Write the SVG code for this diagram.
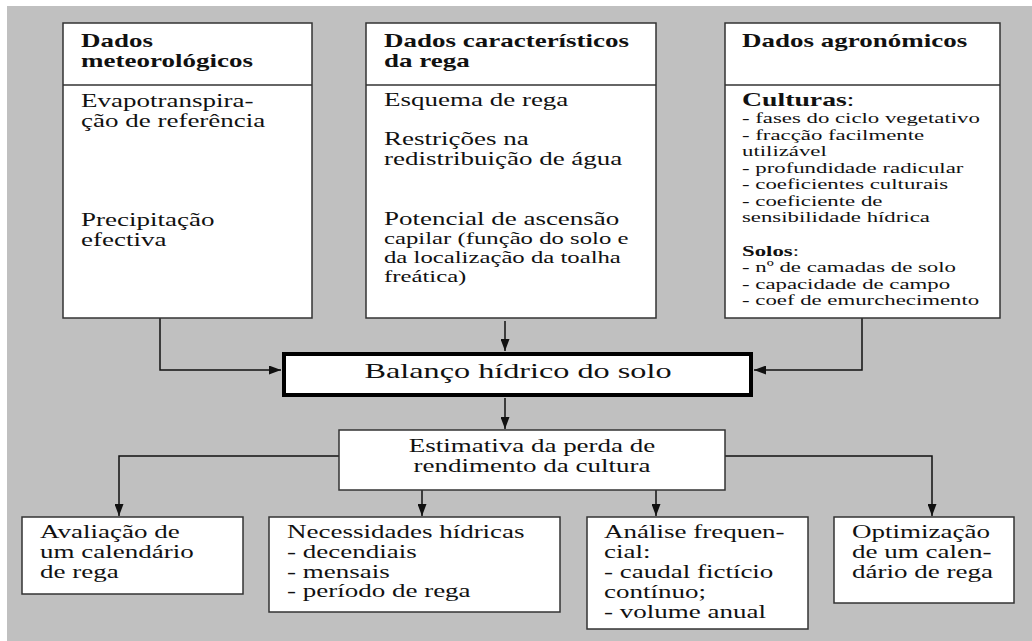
<svg xmlns="http://www.w3.org/2000/svg" width="1032" height="641" viewBox="0 0 1032 641">
<style>
  .bg{fill:#c0c0c0}
  .box{fill:#fff;stroke:#333;stroke-width:1.5}
  .thick{fill:#fff;stroke:#000;stroke-width:4}
  .div{stroke:#333;stroke-width:1.5}
  .ln{fill:none;stroke:#111;stroke-width:1.5}
  text{font-family:"Liberation Serif","Times New Roman",serif;fill:#111}
  .h{font-weight:bold;font-size:18px}
  .t{font-size:18px}
  .s{font-size:16.5px}
  .l{font-size:15.2px}
  .bl{font-size:15.2px;font-weight:bold}
  .cb{font-size:18.5px;font-weight:bold}
  .big{font-size:21.5px}
  .c{text-anchor:middle}
</style>
<defs>
  <marker id="arr" markerUnits="userSpaceOnUse" markerWidth="12" markerHeight="9" refX="12" refY="4.5" orient="auto">
    <path d="M0,0 L12,4.5 L0,9 Z" fill="#111"/>
  </marker>
</defs>
<rect x="0" y="0" width="1032" height="641" fill="#fff"/>
<rect class="bg" x="7" y="6" width="1025" height="635"/>

<g id="connectors">
  <path class="ln" d="M160,318 V370 H281" marker-end="url(#arr)"/>
  <path class="ln" d="M505,321 V351" marker-end="url(#arr)"/>
  <path class="ln" d="M862,318 V370 H754" marker-end="url(#arr)"/>
  <path class="ln" d="M505,398 V429" marker-end="url(#arr)"/>
  <path class="ln" d="M339,456 H119 V516" marker-end="url(#arr)"/>
  <path class="ln" d="M422,490 V516" marker-end="url(#arr)"/>
  <path class="ln" d="M656,490 V516" marker-end="url(#arr)"/>
  <path class="ln" d="M725,456 H932 V516" marker-end="url(#arr)"/>
</g>

<g id="meteo">
  <rect class="box" x="63" y="23" width="249" height="295"/>
  <line class="div" x1="63" y1="85" x2="312" y2="85"/>
  <g transform="translate(81 0) scale(1.5 1)">
    <text class="h" x="0" y="47">Dados</text>
    <text class="h" x="0" y="67">meteorológicos</text>
    <text class="t" x="0" y="107">Evapotranspira-</text>
    <text class="t" x="0" y="127">ção de referência</text>
    <text class="t" x="0" y="226">Precipitação</text>
    <text class="t" x="0" y="246">efectiva</text>
  </g>
</g>

<g id="rega">
  <rect class="box" x="366" y="23" width="290" height="295"/>
  <line class="div" x1="366" y1="85" x2="656" y2="85"/>
  <g transform="translate(384 0) scale(1.5 1)">
    <text class="h" x="0" y="47">Dados característicos</text>
    <text class="h" x="0" y="67">da rega</text>
    <text class="t" x="0" y="106">Esquema de rega</text>
    <text class="t" x="0" y="145">Restrições na</text>
    <text class="t" x="0" y="165">redistribuição de água</text>
    <text class="t" x="0" y="225">Potencial de ascensão</text>
    <text class="s" x="0" y="244">capilar (função do solo e</text>
    <text class="s" x="0" y="263">da localização da toalha</text>
    <text class="s" x="0" y="282">freática)</text>
  </g>
</g>

<g id="agro">
  <rect class="box" x="725" y="23" width="275" height="295"/>
  <line class="div" x1="725" y1="85" x2="1000" y2="85"/>
  <g transform="translate(742 0) scale(1.5 1)">
    <text class="h" x="0" y="47">Dados agronómicos</text>
    <text x="0" y="106"><tspan class="cb">Culturas</tspan><tspan class="t">:</tspan></text>
    <text class="l" x="0" y="123">- fases do ciclo vegetativo</text>
    <text class="l" x="0" y="140">- fracção facilmente</text>
    <text class="l" x="0" y="156">utilizável</text>
    <text class="l" x="0" y="173">- profundidade radicular</text>
    <text class="l" x="0" y="189">- coeficientes culturais</text>
    <text class="l" x="0" y="206">- coeficiente de</text>
    <text class="l" x="0" y="222">sensibilidade hídrica</text>
    <text x="0" y="256"><tspan class="bl">Solos</tspan><tspan class="l">:</tspan></text>
    <text class="l" x="0" y="272">- nº de camadas de solo</text>
    <text class="l" x="0" y="289">- capacidade de campo</text>
    <text class="l" x="0" y="305">- coef de emurchecimento</text>
  </g>
</g>

<g id="balanco">
  <rect class="thick" x="284" y="354" width="467" height="41"/>
  <g transform="translate(518 0) scale(1.5 1)">
    <text class="big c" x="0" y="378">Balanço hídrico do solo</text>
  </g>
</g>

<g id="estimativa">
  <rect class="box" x="339" y="430" width="386" height="60"/>
  <g transform="translate(532 0) scale(1.5 1)">
    <text class="t c" x="0" y="452">Estimativa da perda de</text>
    <text class="t c" x="0" y="472">rendimento da cultura</text>
  </g>
</g>

<g id="avaliacao">
  <rect class="box" x="22" y="517" width="221" height="77"/>
  <g transform="translate(40 0) scale(1.5 1)">
    <text class="t" x="0" y="538">Avaliação de</text>
    <text class="t" x="0" y="558">um calendário</text>
    <text class="t" x="0" y="578">de rega</text>
  </g>
</g>

<g id="necessidades">
  <rect class="box" x="269" y="517" width="291" height="95"/>
  <g transform="translate(287 0) scale(1.5 1)">
    <text class="t" x="0" y="538">Necessidades hídricas</text>
    <text class="t" x="0" y="558">- decendiais</text>
    <text class="t" x="0" y="578">- mensais</text>
    <text class="t" x="0" y="597">- período de rega</text>
  </g>
</g>

<g id="analise">
  <rect class="box" x="587" y="517" width="221" height="112"/>
  <g transform="translate(604 0) scale(1.5 1)">
    <text class="t" x="0" y="538">Análise frequen-</text>
    <text class="t" x="0" y="558">cial:</text>
    <text class="t" x="0" y="578">- caudal fictício</text>
    <text class="t" x="0" y="598">contínuo;</text>
    <text class="t" x="0" y="618">- volume anual</text>
  </g>
</g>

<g id="optimizacao">
  <rect class="box" x="834" y="517" width="180" height="86"/>
  <g transform="translate(852 0) scale(1.5 1)">
    <text class="t" x="0" y="538">Optimização</text>
    <text class="t" x="0" y="558">de um calen-</text>
    <text class="t" x="0" y="578">dário de rega</text>
  </g>
</g>
</svg>
